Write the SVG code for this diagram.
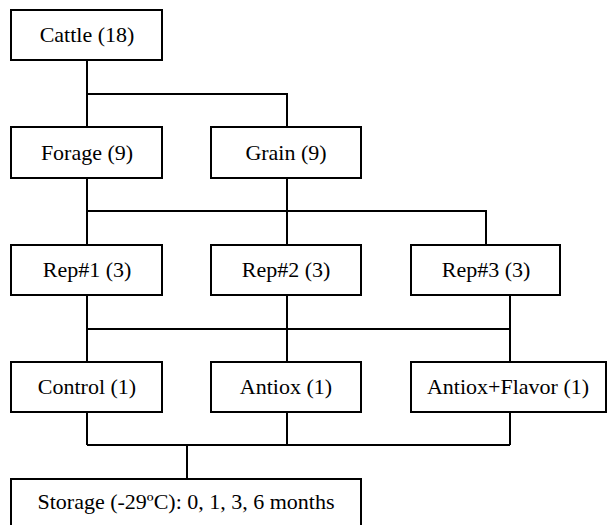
<svg xmlns="http://www.w3.org/2000/svg" width="607" height="525" viewBox="0 0 607 525">
<style>
.box{fill:#fff;stroke:#000;stroke-width:2}
.lbl{font-family:'Liberation Serif','DejaVu Serif',serif;font-size:22px;fill:#000;text-anchor:middle}
.conn{fill:none;stroke:#000;stroke-width:2}
</style>
<rect width="607" height="525" fill="#fff"/>
<g id="connectors">
<path class="conn" d="M87,60 V127 M87,94 H287 V127"/>
<path class="conn" d="M87,178 V245 M287,178 V245 M87,211 H486 V245"/>
<path class="conn" d="M87,295 V362 M287,295 V362 M510,295 V362 M87,329 H510"/>
<path class="conn" d="M87,412 V445 M287,412 V445 M510,412 V445 M87,445 H510 M187,445 V479"/>
</g>
<g id="cattle"><rect class="box" x="11" y="10" width="151" height="50"/><text class="lbl" x="87" y="42">Cattle (18)</text></g>
<g id="forage"><rect class="box" x="11" y="127" width="151" height="51"/><text class="lbl" x="87" y="160">Forage (9)</text></g>
<g id="grain"><rect class="box" x="211" y="127" width="150" height="51"/><text class="lbl" x="286" y="160">Grain (9)</text></g>
<g id="rep1"><rect class="box" x="11" y="245" width="151" height="50"/><text class="lbl" x="87" y="277">Rep#1 (3)</text></g>
<g id="rep2"><rect class="box" x="211" y="245" width="150" height="50"/><text class="lbl" x="286" y="277">Rep#2 (3)</text></g>
<g id="rep3"><rect class="box" x="411" y="245" width="149" height="50"/><text class="lbl" x="486" y="277">Rep#3 (3)</text></g>
<g id="control"><rect class="box" x="11" y="362" width="151" height="50"/><text class="lbl" x="87" y="394">Control (1)</text></g>
<g id="antiox"><rect class="box" x="211" y="362" width="150" height="50"/><text class="lbl" x="286" y="394">Antiox (1)</text></g>
<g id="antioxflavor"><rect class="box" x="411" y="362" width="195" height="50"/><text class="lbl" x="508" y="394">Antiox+Flavor (1)</text></g>
<g id="storage"><rect class="box" x="11" y="479" width="350" height="60"/><text class="lbl" x="186" y="509">Storage (-29ºC): 0, 1, 3, 6 months</text></g>
</svg>
